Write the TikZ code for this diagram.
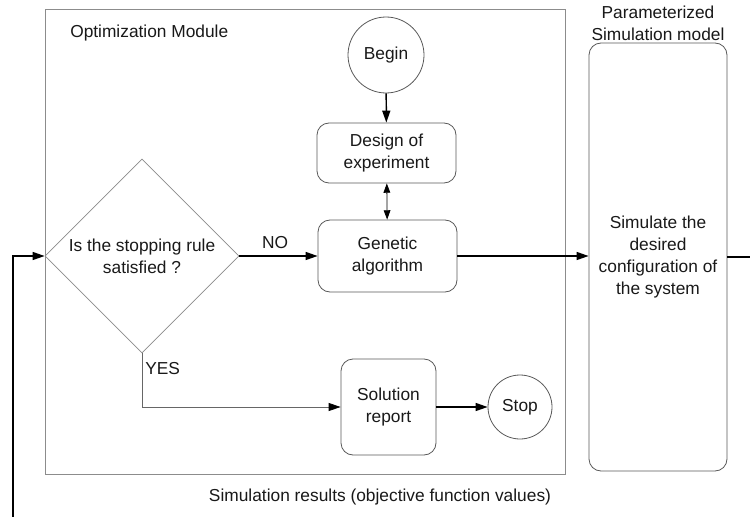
\documentclass[tikz,border=0pt]{standalone}
\usepackage{fontspec}
\setmainfont{Liberation Sans}
\usetikzlibrary{shapes.geometric,arrows.meta}
\begin{document}
\begin{tikzpicture}[x=0.75pt,y=-0.75pt,
  every node/.style={font=\fontsize{13}{16.4}\selectfont, text=black!90},
  rbox/.style={draw=black!65, line width=0.6pt, rounded corners=9pt, align=center, inner sep=0pt},
  circ/.style={draw=black!65, line width=0.6pt, circle, inner sep=0pt},
  frame/.style={draw=black!45, line width=0.7pt},
  thickarrow/.style={draw=black, line width=1.1pt, -{Triangle[length=9pt,width=6pt]}},
  thinarrow/.style={draw=black!60, line width=0.6pt, -{Triangle[length=9pt,width=6pt,color=black]}},
  plain/.style={inner sep=0pt}
]
\useasboundingbox (0,0) rectangle (750,517);
\fill[white] (0,0) rectangle (750,517);

% Optimization module frame
\draw[frame] (45,9) rectangle (565,474);
\node[plain, anchor=west] (optlbl) at (70,33) {Optimization Module};

% Nodes
\node[circ, minimum size=57pt] (begin) at (386,55) {Begin};
\node[rbox, minimum width=104.25pt, minimum height=45pt] (doe) at (386.5,153) {Design of\\experiment};
\node[rbox, minimum width=104.25pt, minimum height=54pt] (ga) at (387.5,256) {Genetic\\algorithm};
\node[draw=black!45, line width=0.6pt, diamond, aspect=1, minimum width=145.5pt, minimum height=145.5pt, inner sep=0pt, align=center] (dec) at (142,256) {Is the stopping rule\\satisfied ?};
\node[rbox, minimum width=71.25pt, minimum height=72pt] (sol) at (388.5,407) {Solution\\report};
\node[circ, minimum size=48pt] (stop) at (520,407) {Stop};
\node[rbox, minimum width=103.5pt, minimum height=321pt] (sim) at (658,257) {Simulate the\\desired\\configuration of\\the system};

\node[plain, align=center] (simlbl) at (658,23) {Parameterized\\Simulation model};
\node[plain] (nolbl) at (275,243) {NO};
\node[plain, anchor=west] (yeslbl) at (145,369) {YES};
\node[plain] (reslbl) at (380,497) {Simulation results (objective function values)};

% Connectors
\draw[thickarrow] (begin) -- (doe);
\draw[black, line width=0.6pt, {Triangle[length=7pt,width=5pt]}-{Triangle[length=7pt,width=5pt]}] (doe) -- (ga);
\draw[thickarrow] (dec.east) -- (ga.west);
\draw[thickarrow] (ga.east) -- (sim.west |- ga.east);
\draw[thinarrow] (dec.south) |- (sol.west);
\draw[thickarrow] (sol) -- (stop);
\coordinate (rightend) at (750,257);
\coordinate (leftbot) at (13,517);
\draw[black, line width=1.1pt] (sim.east |- rightend) -- (rightend);
\draw[thickarrow] (leftbot) |- (dec.west);
\end{tikzpicture}
\end{document}
